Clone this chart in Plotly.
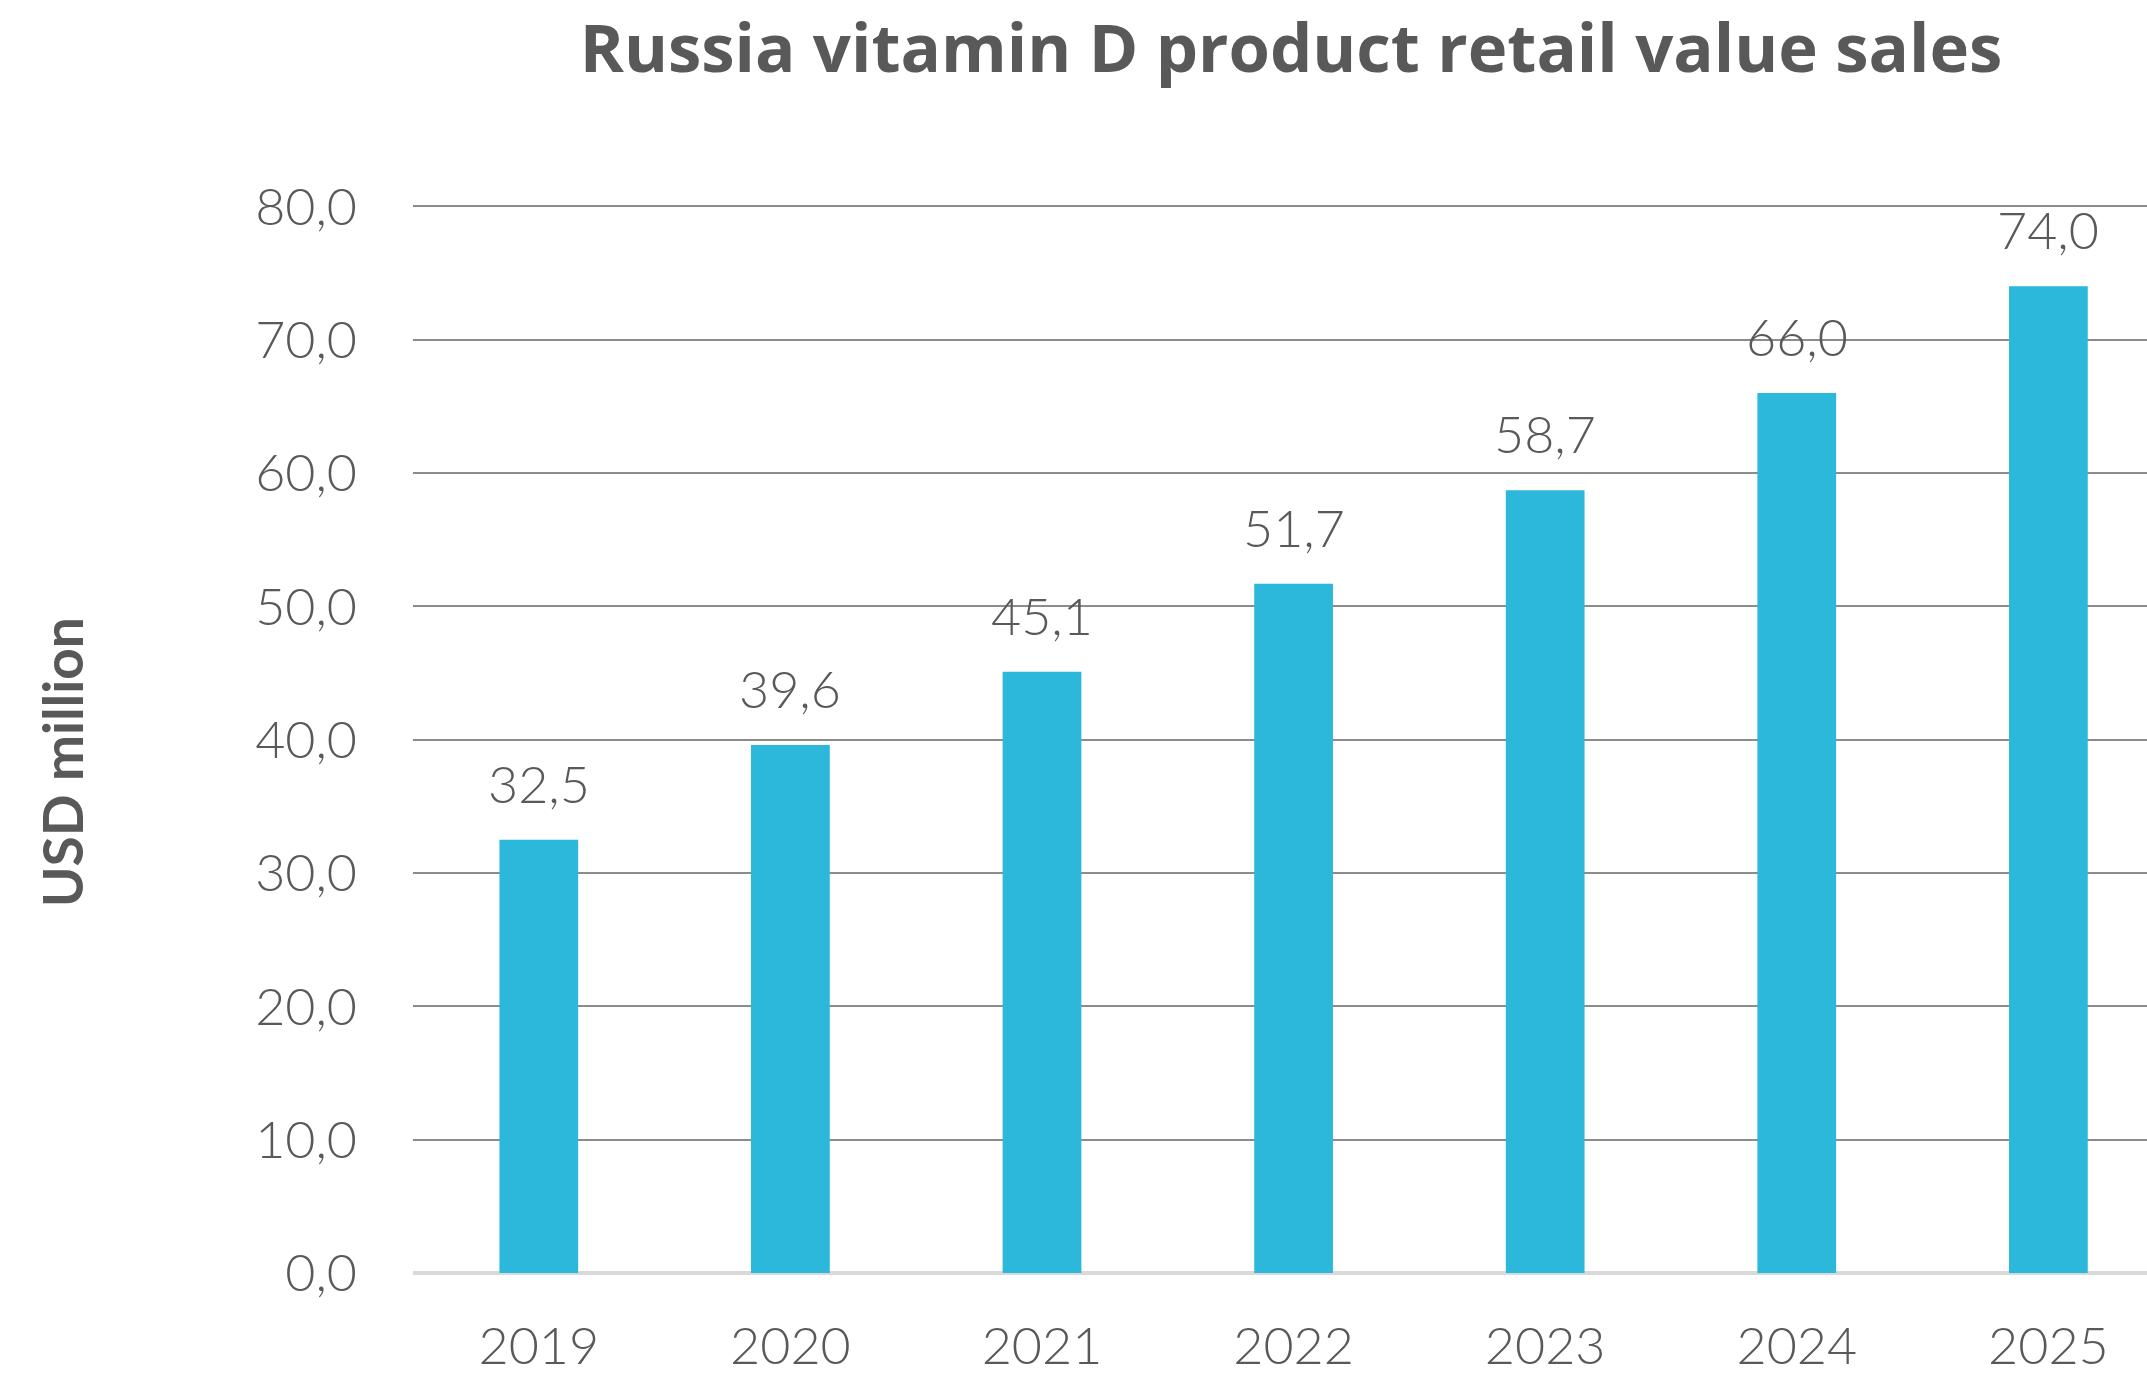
import plotly.graph_objects as go

years = ["2019", "2020", "2021", "2022", "2023", "2024", "2025"]
sales = [32.5, 39.6, 45.1, 51.7, 58.7, 66.0, 74.0]
y_ticks = [0, 10, 20, 30, 40, 50, 60, 70, 80]

TEXT = "#595959"
BAR = "#2BB8DA"
FONT = "Lato"

W, H = 2147, 1375
L, R, T, B = 413, 0, 205, 93

fig = go.Figure()
fig.add_trace(go.Bar(
    x=years, y=sales, marker=dict(color=BAR, line=dict(width=0)),
    hoverinfo="skip", showlegend=False,
))

for i, v in enumerate(sales):
    fig.add_annotation(
        x=i, y=v, xref="x", yref="y",
        text=f"{v:.1f}".replace(".", ","),
        showarrow=False, yanchor="middle", yshift=57,
        font=dict(family=FONT, size=52, color=TEXT, weight=300),
    )

fig.add_annotation(
    x=(62 - L) / (W - L - R), y=(H - B - 767) / (H - B - T),
    xref="paper", yref="paper",
    text="<b>USD million</b>", textangle=-90, showarrow=False,
    xanchor="center", yanchor="middle",
    font=dict(family=FONT, size=55, color=TEXT),
)

fig.update_layout(
    width=W, height=H,
    margin=dict(l=L, r=R, t=T, b=B),
    paper_bgcolor="white", plot_bgcolor="white",
    separators=",.",
    title=dict(
        text="<b>Russia vitamin D product retail value sales</b>",
        x=1291 / W, xanchor="center", y=1 - 49 / H, yanchor="middle",
        font=dict(family="Open Sans", size=67, color=TEXT),
    ),
    xaxis=dict(
        type="category", range=[-0.5, 6.392],
        showgrid=False, showline=False, zeroline=False,
        ticks="", ticklabelstandoff=38,
        tickfont=dict(family=FONT, size=52, color=TEXT, weight=300),
    ),
    yaxis=dict(
        range=[0, 80.1], tickvals=y_ticks, tickformat=".1f",
        showgrid=True, gridcolor="#8C8C8C", gridwidth=2,
        zeroline=True, zerolinecolor="#D9D9D9", zerolinewidth=4,
        showline=False, ticks="", ticklabelstandoff=55,
        tickfont=dict(family=FONT, size=52, color=TEXT, weight=300),
    ),
    bargap=0.687,
)

fig.write_html(
    "out.html",
    config={"displayModeBar": False, "staticPlot": True},
    post_script="document.body.style.margin='0px';document.body.style.overflow='hidden';",
)
